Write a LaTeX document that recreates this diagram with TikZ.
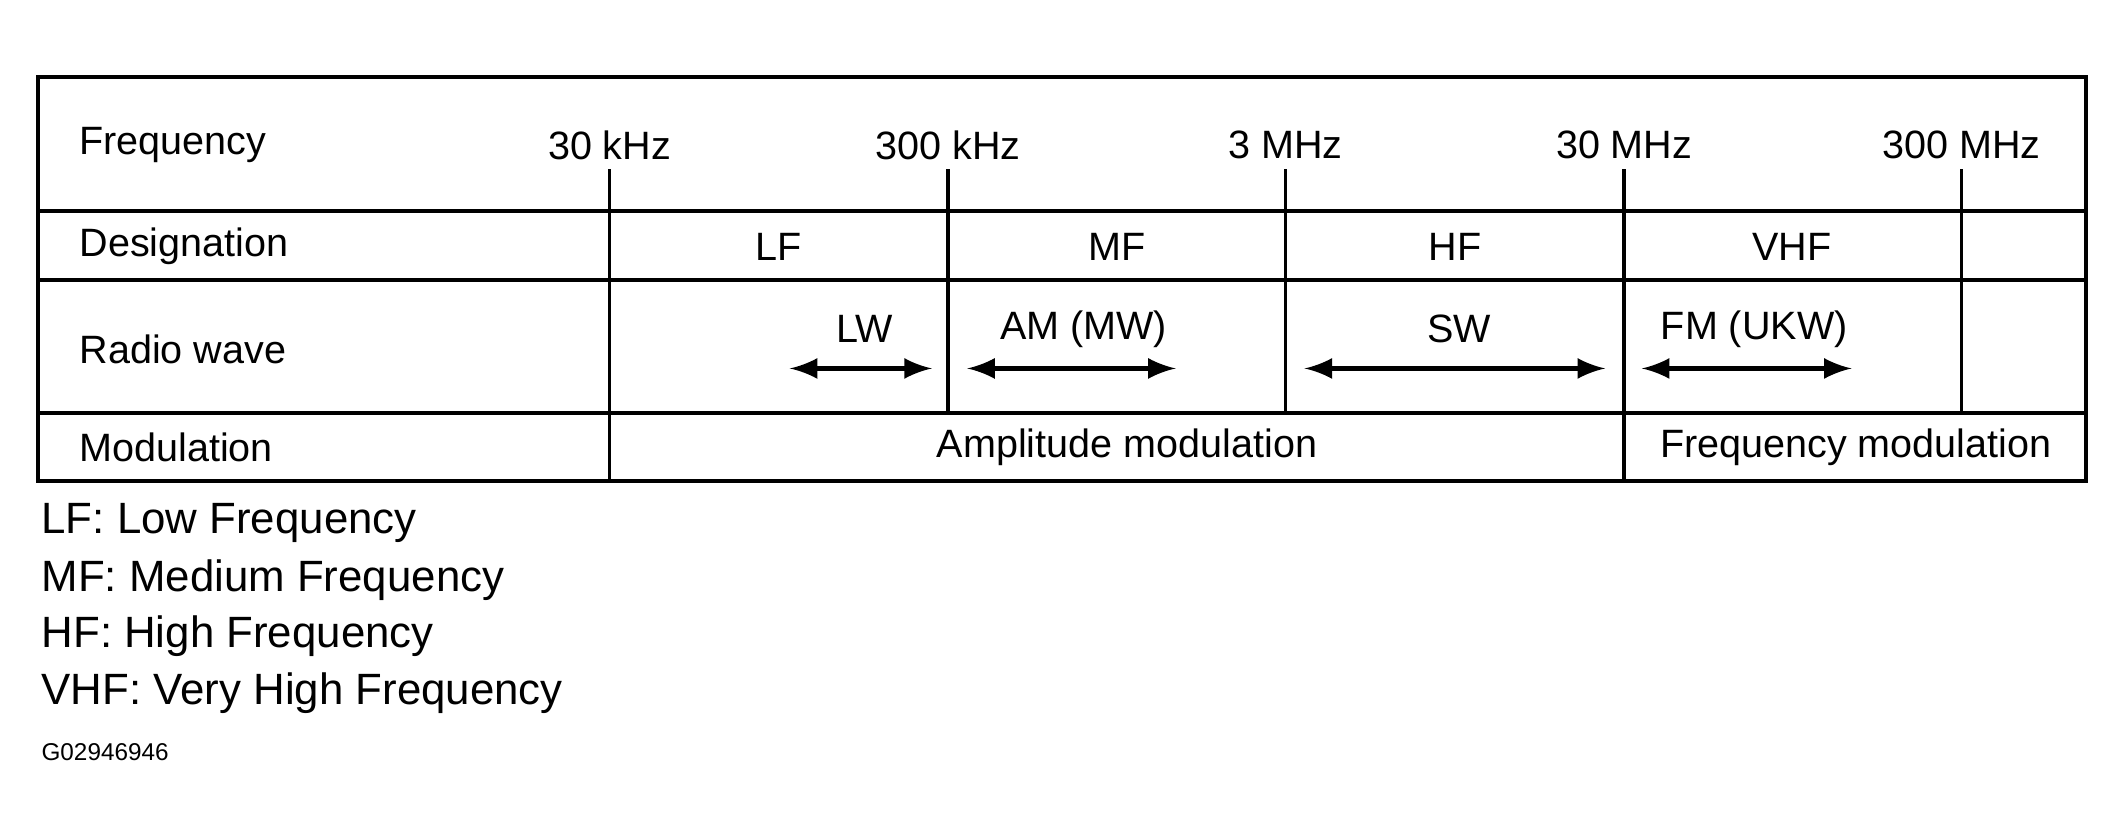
\documentclass[tikz,border=0pt]{standalone}
\usepackage{fontspec}
\setmainfont{Liberation Sans}
\usetikzlibrary{arrows}
\tikzstyle{grid} = [draw, line width=0.8pt]
\tikzstyle{arrow} = [draw, latex-latex, line width=1pt]
\tikzstyle{cell} = [font=\fontsize{8.3}{10}\selectfont, inner sep=0pt]
\tikzstyle{rowhead} = [cell, anchor=west]
\tikzstyle{legend} = [font=\fontsize{9.2}{11}\selectfont, inner sep=0pt, anchor=west]

\begin{document}
\begin{tikzpicture}[x=0.01cm, y=-0.01cm]
      \useasboundingbox (0,0) rectangle (1568,618);
      % Table frame
      \path [grid] (28,57) rectangle (1540,355);
      \path [grid] (28,156) -- (1540,156);
      \path [grid] (28,207) -- (1540,207);
      \path [grid] (28,305) -- (1540,305);
      \path [grid] (450,125) -- (450,355);
      \path [grid] (1199,125) -- (1199,355);
      \foreach \x in {700,949,1448}
        \path [grid] (\x,125) -- (\x,305);

      % Row heads
      \node [rowhead] (freq) at (58,107) {Frequency};
      \node [rowhead] (desig) at (58,182) {Designation};
      \node [rowhead] (radio) at (58,258) {Radio wave};
      \node [rowhead] (modul) at (58,330) {Modulation};

      % Frequency marks
      \node [cell] (f30k) at (450,107) {30 kHz};
      \node [cell] (f300k) at (700,107) {300 kHz};
      \node [cell] (f3M) at (949,107) {3 MHz};
      \node [cell] (f30M) at (1199,107) {30 MHz};
      \node [cell] (f300M) at (1448,107) {300 MHz};

      % Designations
      \node [cell] (lf) at (575,182) {LF};
      \node [cell] (mf) at (825,182) {MF};
      \node [cell] (hf) at (1074,182) {HF};
      \node [cell] (vhf) at (1323,182) {VHF};

      % Radio waves
      \node [cell] (lw) at (638,243) {LW};
      \node [cell] (am) at (800,243) {AM (MW)};
      \node [cell] (sw) at (1077,243) {SW};
      \node [cell] (fm) at (1295,243) {FM (UKW)};
      \coordinate (lwA) at (583,272); \coordinate (lwB) at (688,272);
      \coordinate (amA) at (714,272); \coordinate (amB) at (868,272);
      \coordinate (swA) at (963,272); \coordinate (swB) at (1185,272);
      \coordinate (fmA) at (1212,272); \coordinate (fmB) at (1367,272);
      \path [arrow] (lwA) -- (lwB);
      \path [arrow] (amA) -- (amB);
      \path [arrow] (swA) -- (swB);
      \path [arrow] (fmA) -- (fmB);

      % Modulation
      \node [cell] (amod) at (832,330) {Amplitude modulation};
      \node [cell] (fmod) at (1370,330) {Frequency modulation};

      % Legend
      \node [legend] (leg1) at (30,386) {LF: Low Frequency};
      \node [legend] (leg2) at (30,428) {MF: Medium Frequency};
      \node [legend] (leg3) at (30,470) {HF: High Frequency};
      \node [legend] (leg4) at (30,512) {VHF: Very High Frequency};
      \node [legend, font=\fontsize{5.1}{6}\selectfont] (code) at (30,555) {G02946946};
\end{tikzpicture}
\end{document}
